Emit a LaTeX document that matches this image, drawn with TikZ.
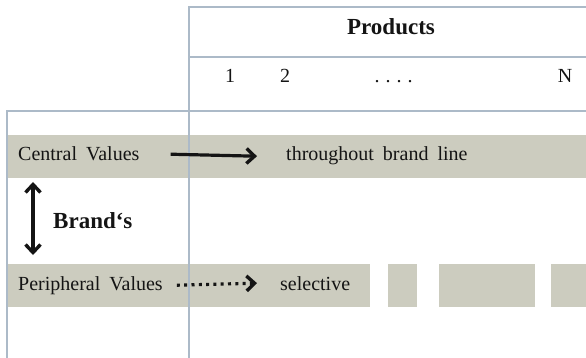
\documentclass[tikz,border=0pt]{standalone}
\usepackage{fontspec}
\setmainfont[WordSpace=1.8]{Liberation Serif}
\usetikzlibrary{arrows.meta}
\definecolor{bandfill}{RGB}{204,204,191}
\definecolor{gridline}{RGB}{172,186,200}
\definecolor{ink}{RGB}{20,20,20}
\begin{document}
\begin{tikzpicture}[x=1pt,y=-1pt,
  band/.style={fill=bandfill, draw=none, inner sep=0pt, outer sep=0pt, anchor=north west},
  txt/.style={font=\fontsize{20}{24}\selectfont, text=ink, inner sep=0pt},
  headtxt/.style={font=\bfseries\fontsize{23}{27}\selectfont, text=ink, inner sep=0pt},
  gridln/.style={draw=gridline, line width=1.4pt},
  tip/.tip={Straight Barb[length=8pt,width=15pt,line width=3.4pt]},
  barb/.style={line width=3.2pt, draw=ink, -tip},
  dotbarb/.style={barb, dash pattern=on 3pt off 4.3pt},
  bibarb/.style={line width=3.2pt, draw=ink, tip-tip}
]
\useasboundingbox (0,0) rectangle (586,358);

% shaded rows
\node[band, minimum width=579pt, minimum height=43pt] (cband) at (7,135) {};
\node[band, minimum width=363pt, minimum height=43pt] (pband) at (7,264) {};
\node[band, minimum width=29pt, minimum height=43pt] (blk1) at (388,264) {};
\node[band, minimum width=96pt, minimum height=43pt] (blk2) at (439,264) {};
\node[band, minimum width=40pt, minimum height=43pt] (blk3) at (551,264) {};

% table rules
\draw[gridln] (189,358) -- (189,7) -- (586,7);
\draw[gridln] (189,57) -- (586,57);
\draw[gridln] (7,358) -- (7,111) -- (586,111);

% column header
\node[headtxt, anchor=base] (prod) at (391,35) {Products};
\node[txt, anchor=base] (p1) at (230,83) {1};
\node[txt, anchor=base] (p2) at (285,83) {2};
\node[txt, anchor=base] (pdots) at (393.5,83) {.\kern6pt.\kern6pt.\kern6pt.};
\node[txt, anchor=base] (pn) at (565,83) {N};

% rows
\node[txt, anchor=base west] (cv) at (18,161) {Central Values};
\node[txt, anchor=base west] (tb) at (286,161) {throughout brand line};
\node[txt, anchor=base west] (pv) at (18,290) {Peripheral Values};
\node[txt, anchor=base west] (sel) at (280,290) {selective};
\node[headtxt, anchor=base west] (brand) at (53,229) {Brand‘s};

% connectors
\draw[barb] (cv.east) ++(31pt,0) -- ([xshift=-29pt]tb.west);
\draw[dotbarb] (pv.east) ++(14pt,0) -- ([xshift=-23pt]sel.west);
\draw[bibarb] ([xshift=26pt,yshift=-4pt]cband.south west) -- ([xshift=26pt,yshift=9pt]pband.north west);
\end{tikzpicture}
\end{document}
